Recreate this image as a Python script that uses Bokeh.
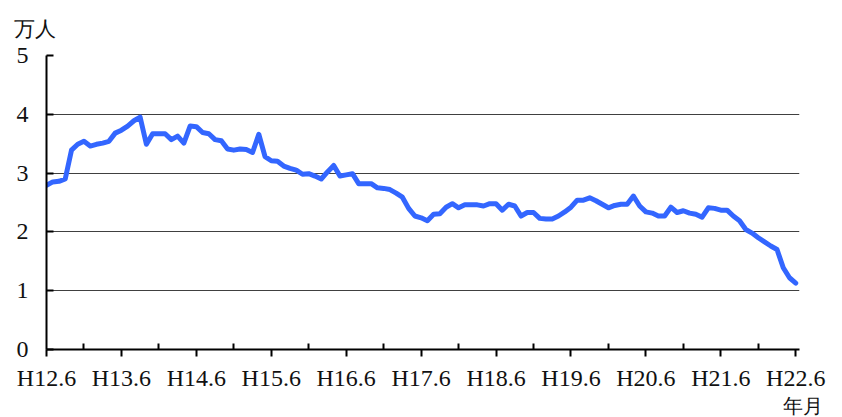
from bokeh.plotting import figure
from bokeh.models import FixedTicker, Range1d, ColumnDataSource, Title
from bokeh.embed import file_html
from bokeh.resources import INLINE

# monthly values (万人), H12.6 .. H22.6
values = [
    2.79, 2.85, 2.86, 2.90, 3.39, 3.49, 3.54, 3.46, 3.49, 3.51, 3.54, 3.68,
    3.73, 3.80, 3.89, 3.95, 3.49, 3.67, 3.67, 3.67, 3.57, 3.63, 3.51, 3.80,
    3.79, 3.69, 3.67, 3.57, 3.55, 3.41, 3.39, 3.41, 3.40, 3.35, 3.66, 3.28,
    3.21, 3.20, 3.12, 3.08, 3.05, 2.98, 2.99, 2.95, 2.90, 3.02, 3.13, 2.95,
    2.97, 2.99, 2.82, 2.82, 2.82, 2.75, 2.74, 2.72, 2.66, 2.59, 2.40, 2.27,
    2.24, 2.19, 2.30, 2.31, 2.42, 2.48, 2.41, 2.46, 2.46, 2.46, 2.44, 2.48,
    2.48, 2.37, 2.47, 2.44, 2.27, 2.33, 2.33, 2.23, 2.22, 2.22, 2.27, 2.34,
    2.42, 2.54, 2.54, 2.58, 2.53, 2.47, 2.41, 2.45, 2.47, 2.47, 2.61, 2.44,
    2.34, 2.32, 2.27, 2.27, 2.42, 2.33, 2.36, 2.32, 2.30, 2.25, 2.41, 2.40,
    2.37, 2.37, 2.27, 2.19, 2.04, 1.98, 1.90, 1.83, 1.76, 1.70, 1.39, 1.22,
    1.13,
]
months = list(range(len(values)))

tick_labels = ["H12.6", "H13.6", "H14.6", "H15.6", "H16.6", "H17.6",
               "H18.6", "H19.6", "H20.6", "H21.6", "H22.6"]
year_ticks = [12 * i for i in range(len(tick_labels))]
half_ticks = [12 * i + 6 for i in range(len(tick_labels) - 1)]
y_ticks = [0, 1, 2, 3, 4, 5]

p = figure(width=840, height=416,
           x_range=Range1d(0, 120.6), y_range=Range1d(0, 5),
           output_backend="svg", toolbar_location=None,
           min_border_left=46, min_border_right=41,
           min_border_top=55, min_border_bottom=67)
p.outline_line_color = None
p.background_fill_color = "white"
p.border_fill_color = "white"

# x axis
xa = p.xaxis[0]
xa.ticker = FixedTicker(ticks=year_ticks, minor_ticks=half_ticks)
xa.major_label_overrides = {t: lab for t, lab in zip(year_ticks, tick_labels)}
xa.axis_line_width = 2
xa.axis_line_color = "black"
xa.major_tick_in = 0
xa.major_tick_out = 7
xa.major_tick_line_width = 2
xa.major_tick_line_color = "black"
xa.minor_tick_in = 6
xa.minor_tick_out = 0
xa.minor_tick_line_width = 2
xa.minor_tick_line_color = "black"
xa.major_label_text_font = "Liberation Serif"
xa.major_label_text_font_size = "24px"
xa.major_label_text_color = "#111111"
xa.major_label_standoff = 8

# y axis
ya = p.yaxis[0]
ya.ticker = FixedTicker(ticks=y_ticks)
ya.axis_line_width = 2
ya.axis_line_color = "black"
ya.major_tick_in = 7
ya.major_tick_out = 0
ya.major_tick_line_width = 2
ya.major_tick_line_color = "black"
ya.minor_tick_line_color = None
ya.major_label_text_font = "Liberation Serif"
ya.major_label_text_font_size = "24px"
ya.major_label_text_color = "#111111"
ya.major_label_standoff = 18

p.xgrid.visible = False
p.ygrid.ticker = FixedTicker(ticks=[1, 2, 3, 4, 5])
p.ygrid.grid_line_color = "#404040"
p.ygrid.grid_line_width = 1

src = ColumnDataSource(dict(m=months, v=values))
p.line(x="m", y="v", source=src, line_color="#3366FF", line_width=5,
       line_join="round", line_cap="round")

# unit label (top-left) and axis name (bottom-right)
p.add_layout(Title(text="万人", align="left", offset=-33, standoff=29,
                   text_font="Liberation Serif", text_font_size="21px",
                   text_font_style="normal", text_color="#111111"), "above")
p.add_layout(Title(text="年月", align="right", offset=-23, standoff=-2,
                   text_font="Liberation Serif", text_font_size="20px",
                   text_font_style="normal", text_color="#111111"), "below")

open("out.html", "w").write(file_html(p, INLINE))
